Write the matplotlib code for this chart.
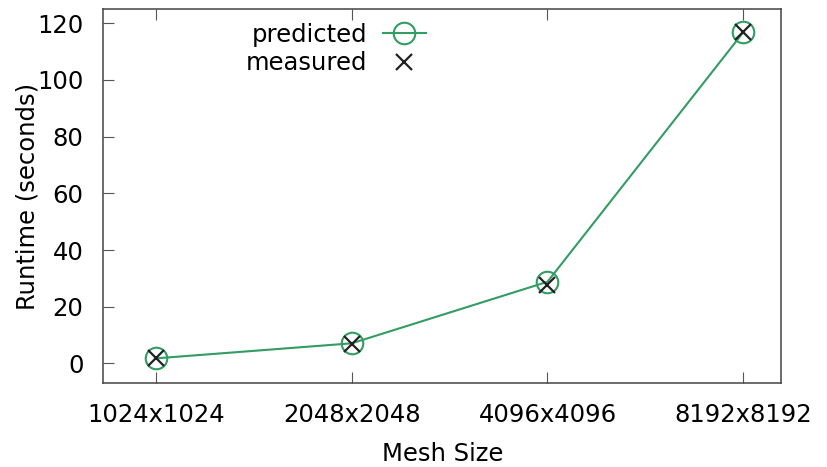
import numpy as np
import matplotlib
matplotlib.use('Agg')
import matplotlib.pyplot as plt
from matplotlib.lines import Line2D

mesh_sizes = ['1024x1024', '2048x2048', '4096x4096', '8192x8192']
predicted = [1.8, 7.1, 28.8, 116.8]
measured = [1.8, 7.0, 27.8, 116.8]

green = '#339c63'
plt.rcParams['font.family'] = ['DejaVu Sans']
plt.rcParams['font.size'] = 17.5

fig = plt.figure(figsize=(8.28, 4.67), dpi=100)
ax = fig.add_axes([0.1244, 0.1792, 0.8194, 0.8015])

x = np.arange(len(mesh_sizes))
ax.plot(x, predicted, color=green, lw=1.5, marker='o', ms=15.5,
        mfc='none', mec=green, mew=1.5, zorder=3)
ax.plot(x, measured, ls='none', marker='x', ms=11, mec='#222222',
        mew=1.6, zorder=4)

ax.set_xlim(-0.27, 3.195)
ax.set_ylim(-7, 125)
ax.set_xticks(x)
ax.set_xticklabels(mesh_sizes)
ax.set_yticks([0, 20, 40, 60, 80, 100, 120])
ax.tick_params(axis='x', direction='in', length=8, width=0.8, pad=14.5,
               top=True, color='#555555')
ax.tick_params(axis='y', direction='in', length=8, width=0.8, pad=14,
               right=False, color='#555555')
for s in ax.spines.values():
    s.set_color('#444444')
    s.set_linewidth(1.1)

ax.set_xlabel('Mesh Size', labelpad=10.5)
ax.set_ylabel('Runtime (seconds)', labelpad=-2)

handles = [
    Line2D([], [], color=green, lw=1.5, marker='o', ms=15.5, mfc='none',
           mec=green, mew=1.5),
    Line2D([], [], ls='none', marker='x', ms=11, mec='#222222', mew=1.6),
]
ax.legend(handles, ['predicted', 'measured'], loc='center right',
          bbox_to_anchor=(0.504, 0.893), markerfirst=False, frameon=False,
          handlelength=1.73, handletextpad=0.66, labelspacing=0.17,
          borderpad=0.3)

fig.savefig('out.png', dpi=100)
